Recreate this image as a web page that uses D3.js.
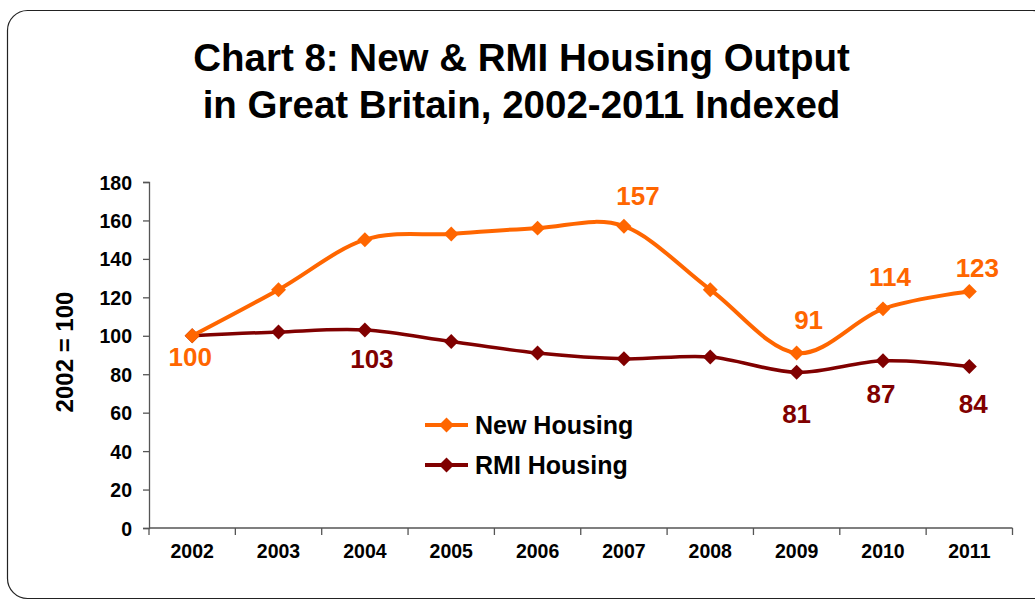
<!DOCTYPE html>
<html><head><meta charset="utf-8">
<script src="https://cdn.jsdelivr.net/npm/d3@7"></script>
<style>body{margin:0;background:#fff}svg{display:block;font-family:"Liberation Sans",Arial,sans-serif}</style>
</head><body><svg id="c" width="1035" height="601"></svg>
<script>
const years = ["2002","2003","2004","2005","2006","2007","2008","2009","2010","2011"];
const newHousing = [100,124,150,153,156,157,124,91,114,123];
const rmiHousing = [100,102,103,97,91,88,89,81,87,84];
const yTicks = [0,20,40,60,80,100,120,140,160,180];
const titleLines = ["Chart 8: New & RMI Housing Output","in Great Britain, 2002-2011 Indexed"];
const yTitle = "2002 = 100";
const seriesNames = ["New Housing","RMI Housing"];
// labelled points: [index, dx, dy(baseline offset)]
const newLabels = [[0,-2,30],[5,14,-21],[7,12,-24],[8,7,-23],[9,8,-15]];
const rmiLabels = [[2,7,38],[7,0,51],[8,-2,42],[9,4,46]];

const svg = d3.select("#c");
const colors = ["#FF6600","#800000"];
const FF = "Liberation Sans, Arial, sans-serif";
svg.append("rect").attr("x",7.5).attr("y",10.5).attr("width",1045).attr("height",588).attr("rx",20)
  .attr("fill","#fff").attr("stroke","#222").attr("stroke-width",1.2);

const t = svg.append("text").attr("text-anchor","middle").attr("font-weight","bold").attr("font-size",38.5).attr("fill","#000");
titleLines.forEach((l,i)=>t.append("tspan").attr("x",521.5).attr("y",71+i*47).text(l));

const x = d3.scaleBand().domain(years).range([149,1012.5]);
const y = d3.scaleLinear().domain([0,180]).range([528,182]);

const gy = svg.append("g").attr("transform","translate(149,0)")
  .call(d3.axisLeft(y).tickValues(yTicks).tickSize(6).tickPadding(11));
const gx = svg.append("g").attr("transform","translate(0,528)")
  .call(d3.axisBottom(x).tickSize(0).tickPadding(16.5));
[gy,gx].forEach(g=>{g.selectAll("path,line").attr("stroke","#555").attr("stroke-width",1.3);
  g.selectAll("text").attr("font-size",19.5).attr("font-weight","bold").attr("fill","#000").attr("font-family",FF);});
gy.selectAll(".tick text").attr("dy","0.36em");
gx.select(".domain").remove();
gx.append("line").attr("x1",149).attr("x2",1012.5).attr("y1",0).attr("y2",0).attr("stroke","#555").attr("stroke-width",1.3);
gx.selectAll(".bt").data(years.concat(["end"])).enter().append("line")
  .attr("x1",(d,i)=>149+i*x.step()).attr("x2",(d,i)=>149+i*x.step()).attr("y1",0).attr("y2",7)
  .attr("stroke","#555").attr("stroke-width",1.3);

svg.append("text").attr("transform","translate(73,352) rotate(-90)").attr("text-anchor","middle")
  .attr("font-size",24).attr("font-weight","bold").text(yTitle);

const cx = d=>x(d)+x.bandwidth()/2;
const line = d3.line().x((d,i)=>cx(years[i])).y(d=>y(d)).curve(d3.curveCardinal.tension(0));
const diamond = d3.symbol().type(d3.symbolSquare).size(112);

[rmiHousing,newHousing].forEach((data)=>{
  const c = data===newHousing?colors[0]:colors[1];
  svg.append("path").datum(data).attr("d",line).attr("fill","none").attr("stroke",c)
    .attr("stroke-width",data===newHousing?4:3.5);
  svg.selectAll(null).data(data).enter().append("path").attr("d",diamond)
    .attr("transform",(d,i)=>`translate(${cx(years[i])},${y(d)}) rotate(45)`).attr("fill",c);
});

function labels(arr,data,c){
  arr.forEach(([i,dx,dy])=>{
    svg.append("text").attr("x",cx(years[i])+dx).attr("y",y(data[i])+dy).attr("text-anchor","middle")
      .attr("font-size",26).attr("font-weight","bold").attr("fill",c).text(data[i]);
  });
}
labels(newLabels,newHousing,colors[0]);
labels(rmiLabels,rmiHousing,colors[1]);

seriesNames.forEach((n,i)=>{
  const yy = 425+i*40;
  svg.append("line").attr("x1",425).attr("x2",468).attr("y1",yy).attr("y2",yy).attr("stroke",colors[i]).attr("stroke-width",4);
  svg.append("path").attr("d",diamond).attr("transform",`translate(446.5,${yy}) rotate(45)`).attr("fill",colors[i]);
  svg.append("text").attr("x",475).attr("y",yy+9).attr("font-size",25).attr("font-weight","bold").text(n);
});
</script></body></html>
